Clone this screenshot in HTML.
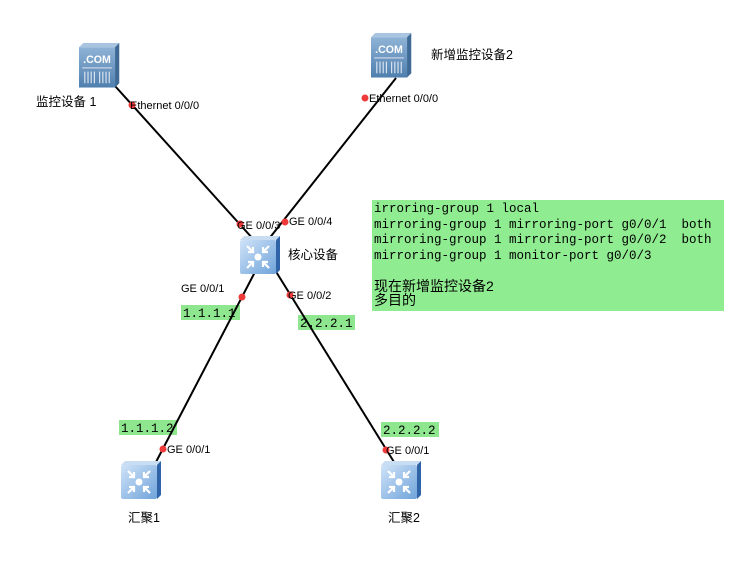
<!DOCTYPE html>
<html><head><meta charset="utf-8"><style>
html,body{margin:0;padding:0;background:#fff;}
svg{display:block;}
.l{font-family:"Liberation Sans",sans-serif;font-size:11px;fill:#000;}
.c{font-family:"Liberation Sans","Noto Sans CJK SC",sans-serif;font-size:12.5px;fill:#000;}
.m{font-family:"Liberation Mono",monospace;font-size:12.5px;fill:#000;white-space:pre;}
</style></head><body>
<svg width="738" height="568" viewBox="0 0 738 568" xmlns="http://www.w3.org/2000/svg">
<defs>
<linearGradient id="sv" x1="0" y1="0" x2="0" y2="1"><stop offset="0" stop-color="#8fb3d6"/><stop offset="1" stop-color="#4f7fae"/></linearGradient>
<linearGradient id="sw" x1="0" y1="0" x2="1" y2="1"><stop offset="0" stop-color="#cfe3f8"/><stop offset="1" stop-color="#6fa3da"/></linearGradient>
<g id="server">
<polygon points="0,4 4,0 38,0 34,4" fill="#a9c4e0"/>
<polygon points="34,4 38,0 38,38 34,42" fill="#3f6a96"/>
<rect x="0" y="4" width="34" height="38" fill="url(#sv)"/>
<text x="17" y="19" font-family="Liberation Sans,sans-serif" font-weight="bold" font-size="10" fill="#fff" text-anchor="middle">.COM</text>
<rect x="3" y="23" width="28" height="1" fill="#dde"/>
<g fill="#e8eef6"><rect x="5" y="27" width="1" height="11"/><rect x="8" y="27" width="1" height="11"/><rect x="11" y="27" width="1" height="11"/><rect x="14" y="27" width="1" height="11"/><rect x="19" y="27" width="1" height="11"/><rect x="22" y="27" width="1" height="11"/><rect x="25" y="27" width="1" height="11"/><rect x="28" y="27" width="1" height="11"/></g>
</g>
<g id="switch">
<polygon points="0,4 4,0 40,0 36,4" fill="#c8dcf2"/>
<polygon points="36,4 40,0 40,34 36,38" fill="#2f64a8"/>
<rect x="0" y="4" width="36" height="34" rx="2" fill="url(#sw)"/>
<circle cx="18" cy="21" r="3.5" fill="#fff"/>
<g stroke="#fff" stroke-width="2.2" fill="none">
<path d="M7 10 L13 16 M13 11 V16 H8"/><path d="M29 10 L23 16 M23 11 V16 H28"/>
<path d="M7 32 L13 26 M13 31 V26 H8"/><path d="M29 32 L23 26 M23 31 V26 H28"/>
</g>
</g>
</defs>
<rect x="181" y="305" width="59" height="15" fill="#8ee68e"/>
<rect x="298" y="315" width="57" height="15" fill="#8ee68e"/>
<rect x="119" y="420" width="58" height="15" fill="#8ee68e"/>
<rect x="381" y="422" width="58" height="15" fill="#8ee68e"/>
<rect x="372" y="200" width="352" height="111" fill="#90ec90"/>
<g stroke="#000" stroke-width="2">
<line x1="115" y1="86" x2="254" y2="240"/>
<line x1="396" y1="78" x2="268" y2="240"/>
<line x1="256" y1="270" x2="156" y2="462"/>
<line x1="275" y1="270" x2="394" y2="462"/>
</g>
<use href="#server" transform="translate(79,43) scale(1.06)"/>
<use href="#server" transform="translate(371,33) scale(1.06)"/>
<use href="#switch" x="240" y="236"/>
<use href="#switch" x="121" y="461"/>
<use href="#switch" x="381" y="461"/>
<g fill="#f03a3a">
<circle cx="132" cy="105" r="3.5"/><circle cx="365" cy="98" r="3.5"/>
<circle cx="240" cy="224" r="3.5"/><circle cx="285" cy="222" r="3.5"/>
<circle cx="242" cy="297" r="3.5"/><circle cx="290" cy="295" r="3.5"/>
<circle cx="163" cy="449" r="3.5"/><circle cx="386" cy="450" r="3.5"/>
</g>
<text class="m" x="183" y="317">1.1.1.1</text>
<text class="m" x="300" y="327">2.2.2.1</text>
<text class="m" x="121" y="432">1.1.1.2</text>
<text class="m" x="383" y="434">2.2.2.2</text>
<text class="m" x="374" y="212">irroring-group 1 local</text>
<text class="m" x="374" y="228" xml:space="preserve">mirroring-group 1 mirroring-port g0/0/1  both</text>
<text class="m" x="374" y="243" xml:space="preserve">mirroring-group 1 mirroring-port g0/0/2  both</text>
<text class="m" x="374" y="259">mirroring-group 1 monitor-port g0/0/3</text>
<text class="c" x="374" y="291" style="font-size:14px">现在新增监控设备2</text>
<text class="c" x="374" y="305" style="font-size:14px">多目的</text>
<text class="l" x="130" y="109">Ethernet 0/0/0</text>
<text class="l" x="369" y="102">Ethernet 0/0/0</text>
<text class="l" x="237" y="229">GE 0/0/3</text>
<text class="l" x="289" y="225">GE 0/0/4</text>
<text class="l" x="181" y="292">GE 0/0/1</text>
<text class="l" x="288" y="299">GE 0/0/2</text>
<text class="l" x="167" y="453">GE 0/0/1</text>
<text class="l" x="386" y="454">GE 0/0/1</text>
<text class="c" x="36" y="106">监控设备 1</text>
<text class="c" x="431" y="59">新增监控设备2</text>
<text class="c" x="288" y="259">核心设备</text>
<text class="c" x="128" y="522">汇聚1</text>
<text class="c" x="388" y="522">汇聚2</text>
</svg>
</body></html>
